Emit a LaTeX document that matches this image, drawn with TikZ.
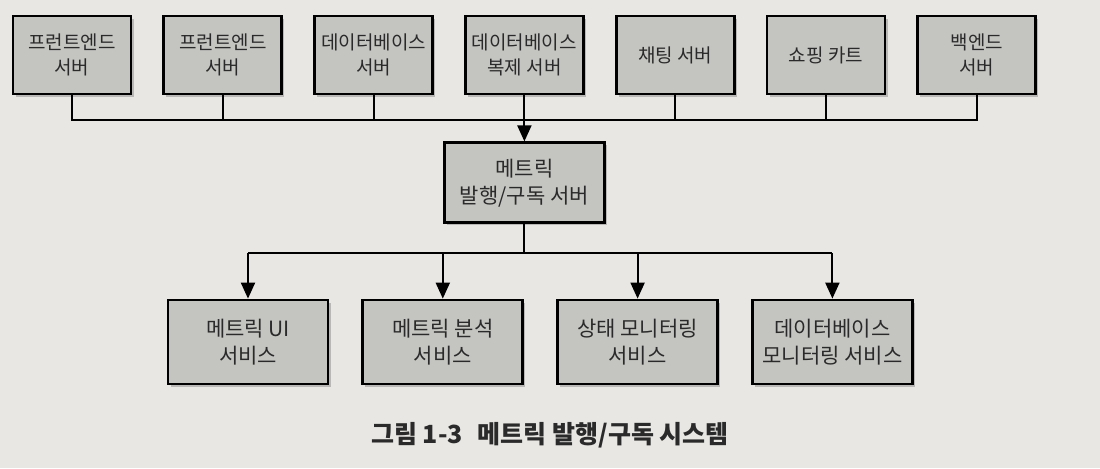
\documentclass[tikz,border=0pt]{standalone}
\usepackage{fontspec}
\setmainfont{Noto Sans CJK KR}
\usepackage{xcolor}
\usetikzlibrary{arrows.meta,positioning,shadows}
\definecolor{paper}{RGB}{232,231,228}
\definecolor{boxgray}{RGB}{196,196,193}
\definecolor{inkgray}{RGB}{42,42,42}
\tikzset{
  srvbox/.style={draw=black, line width=1.4pt, fill=boxgray, align=center, text=inkgray, font=\fontsize{9.5}{12.5}\selectfont, inner sep=2pt, minimum height=39pt, minimum width=59pt, drop shadow={shadow xshift=1.3pt, shadow yshift=-1.3pt, opacity=0.45}},
  svcbox/.style={srvbox, font=\fontsize{10.5}{13.5}\selectfont, minimum height=42pt, minimum width=80pt},
  busline/.style={line width=1pt},
  barr/.style={-{Triangle[width=7pt,length=8pt]}, line width=1pt}
}

\begin{document}
\begin{tikzpicture}
\fill[paper] (0,0) rectangle (550pt,-234pt);
\useasboundingbox (0,0) rectangle (550pt,-234pt);
% top row of servers
\node[srvbox] (t1) at (36pt,-27.5pt) {프런트엔드\\서버};
\node[srvbox, right=15pt of t1] (t2) {프런트엔드\\서버};
\node[srvbox, right=15pt of t2] (t3) {데이터베이스\\서버};
\node[srvbox, right=15pt of t3] (t4) {데이터베이스\\복제 서버};
\node[srvbox, right=15pt of t4] (t5) {채팅 서버};
\node[srvbox, right=15pt of t5] (t6) {쇼핑 카트};
\node[srvbox, right=15pt of t6] (t7) {백엔드\\서버};
% pub/sub hub
\node[svcbox, minimum height=40pt, below=23pt of t4] (m) {메트릭\\발행/구독 서버};
% services
\node[svcbox] (b1) at (124pt,-171pt) {메트릭 UI\\서비스};
\node[svcbox, right=16pt of b1] (b2) {메트릭 분석\\서비스};
\node[svcbox, right=16pt of b2] (b3) {상태 모니터링\\서비스};
\node[svcbox, right=16pt of b3] (b4) {데이터베이스\\모니터링 서비스};
\node[font=\bfseries\fontsize{12.5}{15}\selectfont, text=inkgray] (cap) at (275pt,-217.5pt) {그림 1-3\hspace{0.6em}메트릭 발행/구독 시스템};
\coordinate (tbus) at (0,-60pt);
\coordinate (lbus) at (0,-126.5pt);
\draw[busline] (t1.south) |- (t7.south |- tbus) -- (t7.south);
\draw[busline] (t2.south) -- (t2.south |- tbus); \draw[busline] (t3.south) -- (t3.south |- tbus);
\draw[busline] (t5.south) -- (t5.south |- tbus); \draw[busline] (t6.south) -- (t6.south |- tbus);
\draw[barr] (t4.south) -- (m.north);
\draw[busline] (m.south) -- (m.south |- lbus);
\draw[busline] (b1.north |- lbus) -- (b4.north |- lbus);
\draw[barr] (b1.north |- lbus) -- (b1.north); \draw[barr] (b2.north |- lbus) -- (b2.north);
\draw[barr] (b3.north |- lbus) -- (b3.north); \draw[barr] (b4.north |- lbus) -- (b4.north);
\end{tikzpicture}
\end{document}
